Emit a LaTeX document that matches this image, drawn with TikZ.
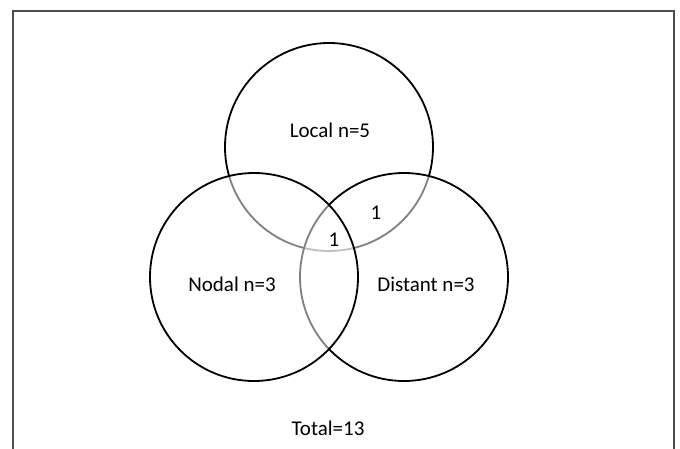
\documentclass[tikz,border=0pt]{standalone}
\usepackage{fontspec}
\setmainfont{Carlito}
\begin{document}
\begin{tikzpicture}[x=1pt,y=-1pt,
  setcircle/.style={draw=black,line width=1.8pt,fill=white,fill opacity=0.5,draw opacity=1},
  lbl/.style={font=\fontsize{21}{25}\selectfont,text=black,inner sep=0pt}]
\useasboundingbox (0,0) rectangle (680,448);
% outer frame (runs past the lower edge)
\draw[line width=2pt,color=black!70] (13,460) -- (13,11) -- (674,11) -- (674,460);
% three overlapping sets, later ones cover earlier outlines
\path[setcircle] (329,147) circle[radius=104];
\path[setcircle] (404,277) circle[radius=104];
\path[setcircle] (254,277) circle[radius=104];
% labels
\node[lbl] (local) at (330,130) {Local n=5};
\node[lbl] (nodal) at (232,284) {Nodal n=3};
\node[lbl] (distant) at (426,284) {Distant n=3};
\node[lbl] (ld) at (376,213) {1};
\node[lbl] (lnd) at (334,240) {1};
\node[lbl] (total) at (328,428) {Total=13};
\end{tikzpicture}
\end{document}
